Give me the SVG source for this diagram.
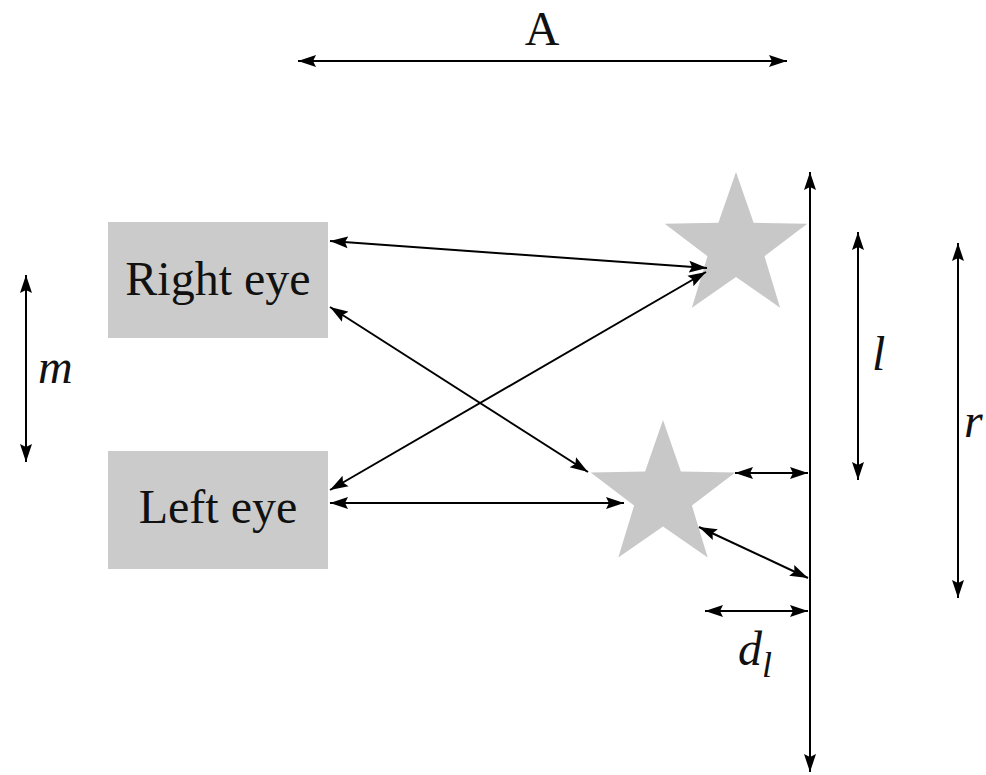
<svg xmlns="http://www.w3.org/2000/svg" width="986" height="775" viewBox="0 0 986 775">
<defs>
<marker id="ah" markerUnits="userSpaceOnUse" markerWidth="19" markerHeight="14" refX="18" refY="7" orient="auto-start-reverse">
<path d="M0,1 L18,7 L0,13 L3,7 z" fill="#000"/>
</marker>
</defs>
<style>
.box{fill:#cbcbcb}
.star{fill:#c8c8c8}
.lbl{font-family:"Liberation Serif",serif;font-size:48px;fill:#111}
.it{font-family:"Liberation Serif",serif;font-size:48px;font-style:italic;fill:#111}
.c{stroke:#000;stroke-width:2;fill:none;marker-start:url(#ah);marker-end:url(#ah)}
</style>
<rect width="986" height="775" fill="#fff"/>
<g id="right-eye">
<rect class="box" x="108" y="222" width="220" height="116"/>
<text class="lbl" x="218" y="295" text-anchor="middle">Right eye</text>
</g>
<g id="left-eye">
<rect class="box" x="108" y="451" width="220" height="118"/>
<text class="lbl" x="218" y="523" text-anchor="middle">Left eye</text>
</g>
<g id="star-top">
<polygon class="star" points="736,172 753.6,222.8 807.3,223.8 764.5,256.2 780.1,307.7 736,277 691.9,307.7 707.5,256.2 664.7,223.8 718.4,222.8"/>
</g>
<g id="star-bottom">
<polygon class="star" points="663,420 680.9,471.5 735.3,472.5 691.9,505.5 707.7,557.5 663,526.4 618.3,557.5 634.1,505.5 590.7,472.5 645.1,471.5"/>
</g>
<g id="labels">
<text class="lbl" x="542" y="45" text-anchor="middle">A</text>
<text class="it" x="38" y="383">m</text>
<text class="it" x="872" y="370">l</text>
<text class="it" x="964" y="437">r</text>
<text class="it" x="738" y="665">d<tspan font-size="36" dy="12">l</tspan></text>
</g>
<g id="connectors">
<line class="c" x1="298" y1="61" x2="787" y2="61"/>
<line class="c" x1="810" y1="172" x2="810" y2="772"/>
<line class="c" x1="330" y1="241" x2="707" y2="268"/>
<line class="c" x1="330" y1="307" x2="588" y2="472"/>
<line class="c" x1="330" y1="490" x2="706" y2="272"/>
<line class="c" x1="330" y1="503" x2="624" y2="503"/>
<line class="c" x1="735" y1="473" x2="808" y2="473"/>
<line class="c" x1="699" y1="527" x2="808" y2="578"/>
<line class="c" x1="705" y1="611" x2="808" y2="611"/>
<line class="c" x1="858" y1="232" x2="858" y2="480"/>
<line class="c" x1="958" y1="243" x2="958" y2="598"/>
<line class="c" x1="26" y1="275" x2="26" y2="462"/>
</g>
</svg>
